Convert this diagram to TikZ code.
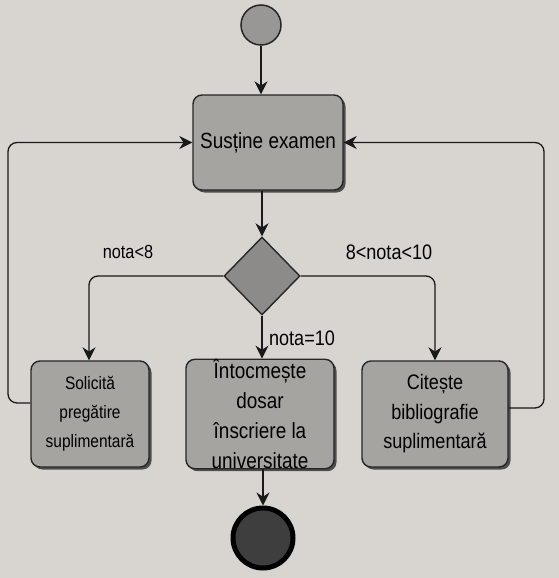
\documentclass[tikz,border=0pt]{standalone}
\usepackage{fontspec}
\setmainfont{Liberation Sans}
\newfontfamily\condfont[FakeStretch=0.86]{Liberation Sans}
\usetikzlibrary{shapes.geometric,arrows.meta,shadows}
\definecolor{bg}{RGB}{216,213,209}
\definecolor{boxfill}{RGB}{166,164,161}
\definecolor{decfill}{RGB}{140,139,138}
\definecolor{startfill}{RGB}{152,151,150}
\definecolor{endfill}{RGB}{62,62,62}
\tikzset{
  act/.style={draw=black!85, line width=1.4pt, fill=boxfill, rounded corners=9pt,
    align=center, inner sep=0pt,
    drop shadow={shadow xshift=2.5pt, shadow yshift=-2.5pt, fill=black!75, opacity=0.9},
    font=\condfont\fontsize{21}{29.5}\selectfont},
  conn/.style={draw=black!90, line width=1.3pt, -{Stealth[length=13pt,width=13pt]}},
  loopc/.style={conn, rounded corners=9pt},
  guard/.style={font=\condfont\fontsize{21}{23}\selectfont, inner sep=0pt}
}
\begin{document}
\begin{tikzpicture}[x=1pt,y=-1pt]
\useasboundingbox (0,0) rectangle (559,578);
\fill[bg] (0,0) rectangle (559,578);

\node[circle, draw=black!85, line width=1.5pt, fill=startfill, minimum size=40pt, inner sep=0pt] (start) at (261,25) {};
\node[act, minimum width=150pt, minimum height=95pt, font=\condfont\fontsize{22}{24}\selectfont] (main) at (268,142.5) {Susține examen};
\node[diamond, draw=black!85, line width=1.4pt, fill=decfill, minimum width=76pt, minimum height=78pt, inner sep=0pt] (dec) at (262,276) {};
\node[act, minimum width=118pt, minimum height=106pt, font=\condfont\fontsize{18}{29}\selectfont] (left) at (90,414) {Solicită\\pregătire\\suplimentară};
\node[act, minimum width=148pt, minimum height=106pt, font=\condfont\fontsize{22}{30}\selectfont] (mid) at (260,414) {Întocmește\\dosar\\înscriere la\\universitate};
\node[act, minimum width=146pt, minimum height=106pt] (right) at (435,414) {Citește\\bibliografie\\suplimentară};
\node[circle, draw=black, line width=5pt, fill=endfill, minimum size=60pt, inner sep=0pt] (end) at (263,538) {};

\node[guard, font=\condfont\fontsize{19}{21}\selectfont] (g1) at (128,252) {nota<8};
\node[guard] (g2) at (389,252) {8<nota<10};
\node[guard] (g3) at (302,338) {nota=10};

\coordinate (ltop) at ([xshift=-1pt]left.north);
\coordinate (lout) at (8,403);
\coordinate (rout) at (544,408);

\draw[conn] (start.south) -- (start.south |- main.north);
\draw[conn] (main.south -| dec.north) -- (dec.north);
\draw[loopc] (dec.west) -| (ltop);
\draw[loopc] (dec.east) -| (right.north);
\draw[conn] (dec.south) -- (dec.south |- mid.north);
\draw[loopc] (left.west |- lout) -- (lout) |- (main.west);
\draw[loopc] (right.east |- rout) -- (rout) |- (main.east);
\draw[conn] (mid.south -| end.north) -- (end.north);
\end{tikzpicture}
\end{document}
